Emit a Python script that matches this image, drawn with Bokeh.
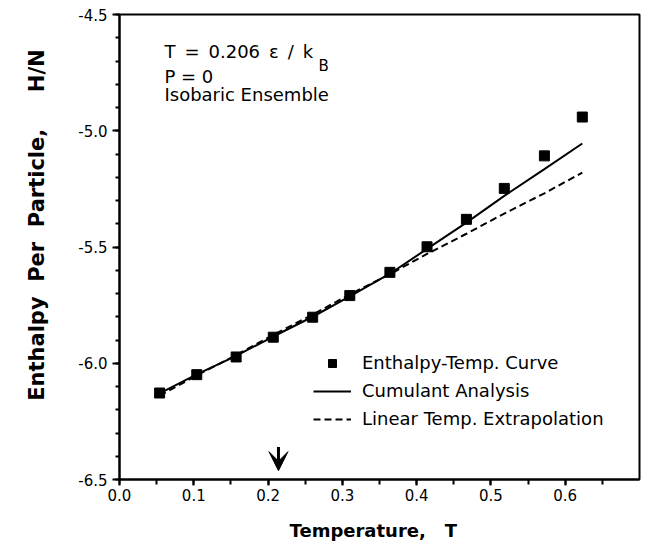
from bokeh.plotting import figure
from bokeh.models import (Range1d, SingleIntervalTicker, PrintfTickFormatter, Legend,
                          LegendItem, Label, Arrow, VeeHead)
from bokeh.embed import file_html
from bokeh.resources import INLINE

# --- data ---
temps = [0.054, 0.104, 0.157, 0.207, 0.260, 0.310, 0.364, 0.414, 0.467, 0.518, 0.572, 0.623]
enthalpy_curve = [-6.128, -6.049, -5.973, -5.888, -5.802, -5.709, -5.609, -5.499, -5.381, -5.248, -5.108, -4.941]
cumulant = [-6.130, -6.048, -5.968, -5.885, -5.800, -5.712, -5.615, -5.508, -5.395, -5.280, -5.165, -5.055]
linear_extrap = [-6.140, -6.052, -5.965, -5.878, -5.791, -5.704, -5.617, -5.530, -5.443, -5.356, -5.269, -5.180]
x_range = (0.0, 0.7)
y_range = (-6.5, -4.5)
ref_temp = 0.214

NB = "\u00a0"
EN = "\u2002"
TICK_FONT = "DejaVu Sans"
TEXT_FONT = "DejaVu Sans"
LABEL_FONT = "DejaVu Sans"

p = figure(width=647, height=544, output_backend="svg", toolbar_location=None,
           x_range=Range1d(*x_range), y_range=Range1d(*y_range),
           min_border_left=119, min_border_right=8, min_border_top=14, min_border_bottom=65)
p.grid.visible = False
p.outline_line_color = "black"
p.outline_line_width = 2
p.background_fill_color = "white"
p.border_fill_color = "white"

p.xaxis.ticker = SingleIntervalTicker(interval=0.1, num_minor_ticks=2)
p.yaxis.ticker = SingleIntervalTicker(interval=0.5, num_minor_ticks=5)
p.xaxis.formatter = PrintfTickFormatter(format="%.1f")
p.yaxis.formatter = PrintfTickFormatter(format="%.1f")

for ax in (p.xaxis[0], p.yaxis[0]):
    ax.axis_line_width = 2
    ax.axis_line_color = "black"
    ax.major_tick_line_width = 2
    ax.minor_tick_line_width = 2
    ax.major_tick_line_color = "black"
    ax.minor_tick_line_color = "black"
    ax.major_tick_in = 0
    ax.minor_tick_in = 0
    ax.major_label_text_font = TICK_FONT
    ax.major_label_text_font_size = "15px"
    ax.major_label_text_color = "black"
    ax.axis_label_text_font = LABEL_FONT
    ax.axis_label_text_font_style = "bold"
    ax.axis_label_text_color = "black"

p.xaxis.major_tick_out = 6
p.xaxis.minor_tick_out = 5
p.yaxis.major_tick_out = 7
p.yaxis.minor_tick_out = 4
p.xaxis.major_label_standoff = 3
p.yaxis.major_label_standoff = 5
p.xaxis.axis_label = "Temperature," + NB * 3 + "T" + NB * 2
p.yaxis.axis_label = NB * 6 + "Enthalpy" + NB * 2 + "Per" + NB * 2 + "Particle," + NB * 5 + "H/N"
p.xaxis.axis_label_text_font_size = "18px"
p.yaxis.axis_label_text_font_size = "21px"
p.xaxis.axis_label_standoff = 16
p.yaxis.axis_label_standoff = 26

r_lin = p.line(temps, linear_extrap, line_color="black", line_width=2, line_dash="7 4")
r_cum = p.line(temps, cumulant, line_color="black", line_width=2)
r_pts = p.scatter(temps, enthalpy_curve, marker="square", size=10,
                  fill_color="black", line_color="black")

legend = Legend(items=[
    LegendItem(label="Enthalpy-Temp. Curve", renderers=[r_pts]),
    LegendItem(label="Cumulant Analysis", renderers=[r_cum]),
    LegendItem(label="Linear Temp. Extrapolation", renderers=[r_lin]),
], location=(194, 50), border_line_color=None, background_fill_alpha=0,
   padding=0, margin=0, spacing=7, glyph_width=38, glyph_height=20,
   label_height=20, label_standoff=11,
   label_text_font=TEXT_FONT, label_text_font_size="18px", label_text_color="black")
p.add_layout(legend)

# annotations
line1 = "T" + EN + "=" + EN + "0.206" + EN + "\u03b5" + EN + "/" + EN + "k"
p.add_layout(Label(x=0.0605, y=-4.659, text=line1, text_font=TEXT_FONT,
                   text_font_size="18px", text_color="black", text_baseline="alphabetic"))
p.add_layout(Label(x=0.268, y=-4.723, text="B", text_font=TEXT_FONT,
                   text_font_size="15px", text_color="black", text_baseline="alphabetic"))
p.add_layout(Label(x=0.0605, y=-4.766, text="P = 0", text_font=TEXT_FONT,
                   text_font_size="18px", text_color="black", text_baseline="alphabetic"))
p.add_layout(Label(x=0.0605, y=-4.843, text="Isobaric Ensemble", text_font=TEXT_FONT,
                   text_font_size="18px", text_color="black", text_baseline="alphabetic"))

p.add_layout(Arrow(end=VeeHead(size=19, fill_color="black", line_color="black"),
                   x_start=ref_temp, y_start=-6.36, x_end=ref_temp, y_end=-6.462,
                   line_width=3, line_color="black"))

open("out.html", "w").write(file_html(p, INLINE))
